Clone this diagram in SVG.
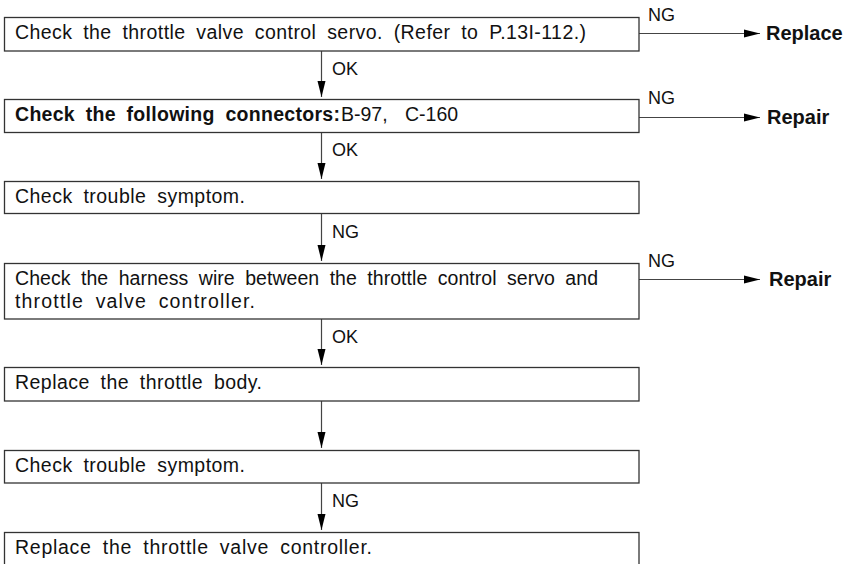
<svg xmlns="http://www.w3.org/2000/svg" width="850" height="564" viewBox="0 0 850 564">
  <style>
    .box { fill: #fff; stroke: #333; stroke-width: 1.3; }
    .t { font-family: "Liberation Sans", Arial, sans-serif; font-size: 19.5px; fill: #111; word-spacing: 5px; }
    .b { font-weight: bold; }
    .lbl { font-family: "Liberation Sans", Arial, sans-serif; font-size: 18px; fill: #111; }
    .res { font-family: "Liberation Sans", Arial, sans-serif; font-size: 20px; font-weight: bold; fill: #111; }
    .wire { stroke: #444; stroke-width: 1.2; fill: none; }
  </style>
  <defs>
    <!-- narrow solid arrowhead, tip at the path end -->
    <marker id="head" markerUnits="userSpaceOnUse" markerWidth="18" markerHeight="10" refX="16" refY="5" orient="auto" viewBox="0 0 18 10">
      <polygon points="0,1 0,9 16,5" fill="#000"/>
    </marker>
  </defs>

  <rect x="0" y="0" width="850" height="564" fill="#fff"/>

  <g id="connectors">
    <!-- vertical flow between steps -->
    <path class="wire" d="M321.5 51 V97" marker-end="url(#head)"/>
    <path class="wire" d="M321.5 132 V179" marker-end="url(#head)"/>
    <path class="wire" d="M321.5 213 V261" marker-end="url(#head)"/>
    <path class="wire" d="M321.5 319 V365" marker-end="url(#head)"/>
    <path class="wire" d="M321.5 401 V448" marker-end="url(#head)"/>
    <path class="wire" d="M321.5 483 V530" marker-end="url(#head)"/>
    <!-- NG branches -->
    <path class="wire" d="M639 33.5 H760" marker-end="url(#head)"/>
    <path class="wire" d="M639 117.5 H760" marker-end="url(#head)"/>
    <path class="wire" d="M639 279.5 H760" marker-end="url(#head)"/>

    <text class="lbl" x="332" y="75">OK</text>
    <text class="lbl" x="332" y="156">OK</text>
    <text class="lbl" x="332" y="238">NG</text>
    <text class="lbl" x="332" y="343">OK</text>
    <text class="lbl" x="332" y="507">NG</text>
    <text class="lbl" x="648" y="21">NG</text>
    <text class="lbl" x="648" y="104">NG</text>
    <text class="lbl" x="648" y="267">NG</text>
  </g>

  <g id="step1">
    <rect class="box" x="4.5" y="17.5" width="634.5" height="33.5"/>
    <text class="t" x="15" y="39" textLength="571" lengthAdjust="spacing">Check the throttle valve control servo. (Refer to P.13I-112.)</text>
  </g>
  <g id="replace1">
    <text class="res" x="766" y="40">Replace</text>
  </g>

  <g id="step2">
    <rect class="box" x="4.5" y="99.5" width="634.5" height="33"/>
    <text class="t b" x="15" y="121" textLength="325" lengthAdjust="spacing">Check the following connectors:</text>
    <text class="t" x="341" y="121" style="word-spacing:12px">B-97, C-160</text>
  </g>
  <g id="repair1">
    <text class="res" x="767" y="124">Repair</text>
  </g>

  <g id="step3">
    <rect class="box" x="4.5" y="181.5" width="634.5" height="32"/>
    <text class="t" x="15" y="203" textLength="230" lengthAdjust="spacing">Check trouble symptom.</text>
  </g>

  <g id="step4">
    <rect class="box" x="4.5" y="263.5" width="634.5" height="55.5"/>
    <text class="t" x="15" y="285" textLength="583" lengthAdjust="spacing">Check the harness wire between the throttle control servo and</text>
    <text class="t" x="15" y="308" textLength="240" lengthAdjust="spacing">throttle valve controller.</text>
  </g>
  <g id="repair2">
    <text class="res" x="769" y="286">Repair</text>
  </g>

  <g id="step5">
    <rect class="box" x="4.5" y="367.5" width="634.5" height="33.5"/>
    <text class="t" x="15" y="389" textLength="247" lengthAdjust="spacing">Replace the throttle body.</text>
  </g>

  <g id="step6">
    <rect class="box" x="4.5" y="450.5" width="634.5" height="32.5"/>
    <text class="t" x="15" y="472" textLength="230" lengthAdjust="spacing">Check trouble symptom.</text>
  </g>

  <g id="step7">
    <rect class="box" x="4.5" y="532.5" width="634.5" height="40"/>
    <text class="t" x="15" y="554" textLength="357" lengthAdjust="spacing">Replace the throttle valve controller.</text>
  </g>
</svg>
